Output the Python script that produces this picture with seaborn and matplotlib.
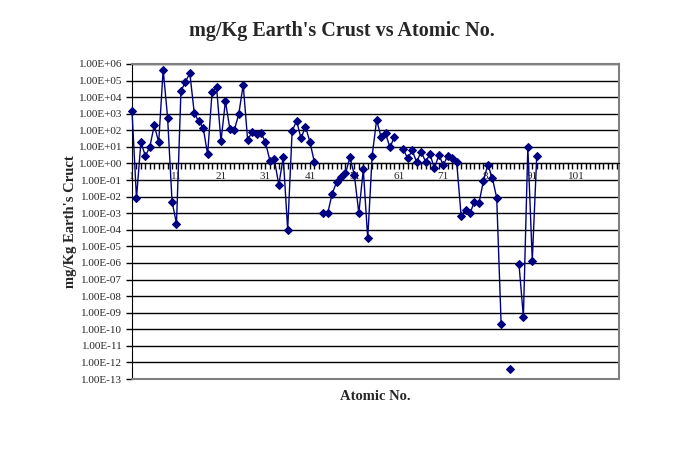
import matplotlib
matplotlib.use("Agg")
import matplotlib.pyplot as plt
import matplotlib.ticker as mticker
import numpy as np
import pandas as pd
import seaborn as sns

# crustal abundance, mg/kg (nan = no value / gap)
atomic_no = list(range(1, 93))
crust_mg_kg = [
    1.4e3, 8e-3, 20, 2.8, 10, 200, 19, 4.61e5, 585, 5e-3,
    2.36e-4, 2.33e4, 8.23e4, 2.82e5, 1.05e3, 350, 145, 3.5, 2.09e4, 4.15e4,
    22, 5650, 120, 102, 950, 5.63e4, 25, 84, 60, 70,
    19, 1.5, 1.8, 0.05, 2.4, 1e-4, 90, 370, 33, 165,
    20, 1.2, np.nan, 1e-3, 1e-3, 0.015, 0.075, 0.15, 0.25, 2.3,
    0.2, 1e-3, 0.45, 3e-5, 3, 425, 39, 66.5, 9.2, 41.5,
    np.nan, 7.05, 2.0, 6.2, 1.2, 5.2, 1.3, 3.5, 0.52, 3.2,
    0.8, 3.0, 2.0, 1.25, 7e-4, 1.5e-3, 1e-3, 5e-3, 4e-3, 0.085,
    0.85, 0.14, 8.5e-3, 2e-10, np.nan, 4e-13, np.nan, 9e-7, 5.5e-10, 9.6,
    1.4e-6, 2.7,
]
x_ticks = list(range(1, 111, 10))

df = pd.DataFrame({"Atomic No.": atomic_no, "mg/Kg": crust_mg_kg})
# split into runs so missing values leave gaps in the line
df["run"] = df["mg/Kg"].isna().cumsum()
df = df.dropna()

sns.set_style("white")
plt.rcParams["font.family"] = ["Liberation Serif", "DejaVu Serif"]

fig = plt.figure(figsize=(6.83, 4.67), dpi=100)
ax = fig.add_axes([0.1933, 0.1884, 0.7130, 0.6746])

sns.lineplot(data=df, x="Atomic No.", y="mg/Kg", units="run", estimator=None,
             color="#000080", marker="D", markersize=4, markeredgecolor="#000080",
             linewidth=1, legend=False, ax=ax, zorder=4, clip_on=False)

ax.set_yscale("log")
ax.set_ylim(1e-13, 1e6)
ax.set_xlim(1, 110.5)
ax.yaxis.set_major_locator(mticker.LogLocator(base=10, numticks=30))
ax.yaxis.set_minor_locator(mticker.NullLocator())
ax.yaxis.set_major_formatter(mticker.FuncFormatter(lambda v, p: f"{v:.2E}"))
ax.set_xticks(x_ticks)
ax.xaxis.set_minor_locator(mticker.MultipleLocator(1))

ax.grid(axis="y", which="major", color="black", linewidth=1)
ax.grid(axis="x", visible=False)

ax.spines["left"].set_color("black")
ax.spines["bottom"].set_position(("data", 1))
ax.spines["bottom"].set_color("black")
for s in ["top", "right"]:
    ax.spines[s].set_color("#808080")
    ax.spines[s].set_linewidth(1.5)
ax.axhline(1e-13, color="#808080", linewidth=1.5, zorder=3, clip_on=False)

ax.tick_params(axis="x", which="both", bottom=True, direction="out", length=4,
               width=1, color="black", labelsize=8, pad=2)
ax.tick_params(axis="y", which="major", left=True, direction="out", length=4,
               width=1, color="black", labelsize=8, pad=3)

ax.set_xlabel("Atomic No.", fontsize=10.5, fontweight="bold")
ax.xaxis.set_label_coords(0.5, -0.035)
ax.set_ylabel("mg/Kg Earth's Cruct", fontsize=10.5, fontweight="bold")
ax.yaxis.set_label_coords(-0.112, 0.5)

fig.text(0.5, 0.934, "mg/Kg Earth's Crust vs Atomic No.", ha="center", va="center",
         fontsize=14.5, fontweight="bold")

fig.savefig("out.png", dpi=100)
